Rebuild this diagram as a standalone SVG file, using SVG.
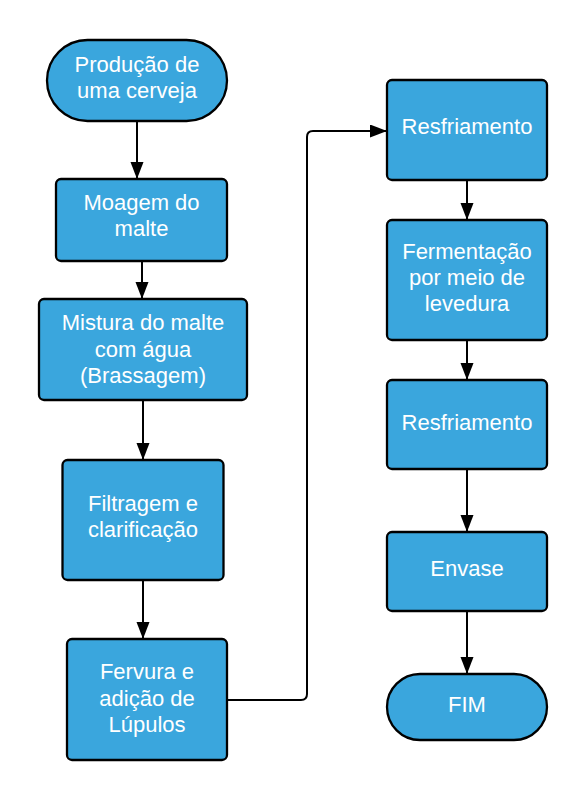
<svg xmlns="http://www.w3.org/2000/svg" width="588" height="800" viewBox="0 0 588 800">
  <style>
    .node { fill: #3aa6dd; stroke: #000; stroke-width: 2.3; }
    .lbl { font-family: "Liberation Sans", Arial, sans-serif; font-size: 22px; fill: #fff; text-anchor: middle; }
    .conn { fill: none; stroke: #000; stroke-width: 2; }
  </style>
  <defs>
    <marker id="arrow" markerUnits="userSpaceOnUse" markerWidth="18" markerHeight="14" refX="17" refY="6.5" orient="auto">
      <path d="M0,0 L17,6.5 L0,13 z" fill="#000"/>
    </marker>
  </defs>
  <rect width="588" height="800" fill="#fff"/>
  <g id="connectors">
    <path class="conn" d="M137,121 L137,179" marker-end="url(#arrow)"/>
    <path class="conn" d="M142,261 L142,299" marker-end="url(#arrow)"/>
    <path class="conn" d="M143,400 L143,460" marker-end="url(#arrow)"/>
    <path class="conn" d="M143,580 L143,639" marker-end="url(#arrow)"/>
    <path class="conn" d="M227,700 L301,700 Q307,700 307,694 L307,137 Q307,131 313,131 L387,131" marker-end="url(#arrow)"/>
    <path class="conn" d="M467,180 L467,220" marker-end="url(#arrow)"/>
    <path class="conn" d="M467,340 L467,380" marker-end="url(#arrow)"/>
    <path class="conn" d="M467,469 L467,532" marker-end="url(#arrow)"/>
    <path class="conn" d="M467,611 L467,674" marker-end="url(#arrow)"/>
  </g>
  <g id="start">
    <rect class="node" x="47" y="40" width="180" height="81" rx="40.5" ry="40.5"/>
    <text class="lbl" x="137"><tspan x="137" y="72">Produção de</tspan><tspan x="137" y="98">uma cerveja</tspan></text>
  </g>
  <g id="moagem">
    <rect class="node" x="56" y="179" width="171" height="82" rx="5"/>
    <text class="lbl"><tspan x="141.5" y="210">Moagem do</tspan><tspan x="141.5" y="236">malte</tspan></text>
  </g>
  <g id="mistura">
    <rect class="node" x="39" y="299" width="208" height="101" rx="5"/>
    <text class="lbl"><tspan x="143" y="330">Mistura do malte</tspan><tspan x="143" y="356.5">com água</tspan><tspan x="143" y="383">(Brassagem)</tspan></text>
  </g>
  <g id="filtragem">
    <rect class="node" x="62.5" y="460" width="161" height="120" rx="5"/>
    <text class="lbl"><tspan x="143" y="511">Filtragem e</tspan><tspan x="143" y="537">clarificação</tspan></text>
  </g>
  <g id="fervura">
    <rect class="node" x="67" y="639" width="160" height="121" rx="5"/>
    <text class="lbl"><tspan x="147" y="679">Fervura e</tspan><tspan x="147" y="705.5">adição de</tspan><tspan x="147" y="732">Lúpulos</tspan></text>
  </g>
  <g id="resfriamento1">
    <rect class="node" x="387" y="80" width="160" height="100" rx="5"/>
    <text class="lbl" x="467" y="134">Resfriamento</text>
  </g>
  <g id="fermentacao">
    <rect class="node" x="387" y="220" width="160" height="120" rx="5"/>
    <text class="lbl"><tspan x="467" y="259">Fermentação</tspan><tspan x="467" y="285">por meio de</tspan><tspan x="467" y="311">levedura</tspan></text>
  </g>
  <g id="resfriamento2">
    <rect class="node" x="387" y="380" width="160" height="89" rx="5"/>
    <text class="lbl" x="467" y="430">Resfriamento</text>
  </g>
  <g id="envase">
    <rect class="node" x="387" y="532" width="160" height="79" rx="5"/>
    <text class="lbl" x="467" y="576">Envase</text>
  </g>
  <g id="fim">
    <rect class="node" x="387" y="674" width="160" height="66" rx="33" ry="33"/>
    <text class="lbl" x="467" y="712">FIM</text>
  </g>
</svg>
